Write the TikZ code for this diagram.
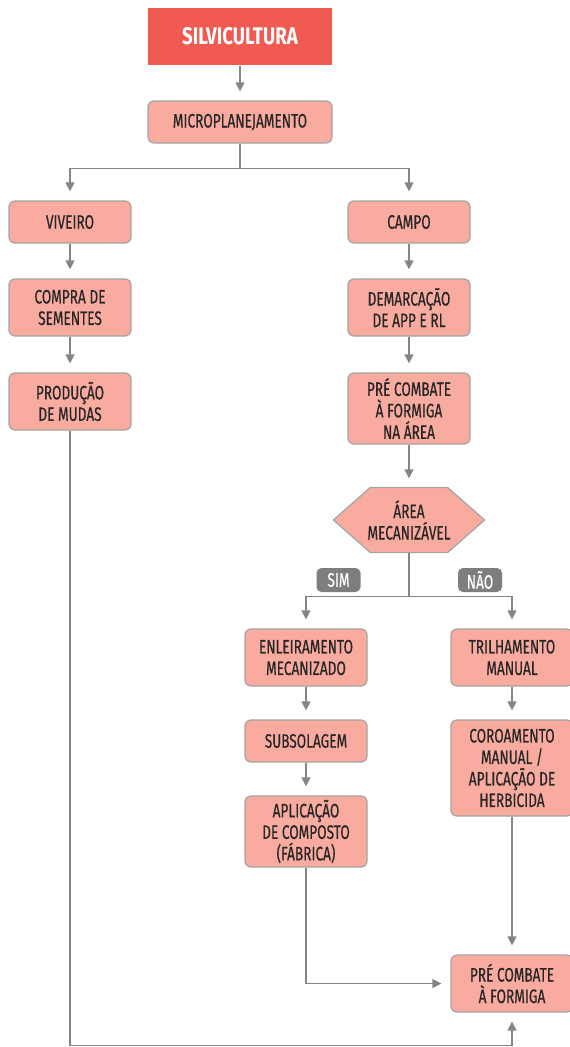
\documentclass[tikz,border=0pt]{standalone}
\usepackage{fontspec}
\setmainfont[FakeStretch=0.70,FakeBold=0.5]{Fira Sans}
\newfontfamily\headfont[FakeStretch=0.78]{Fira Sans}
\usetikzlibrary{arrows.meta}

\definecolor{topred}{HTML}{F15A50}
\definecolor{boxfill}{HTML}{F9ABA0}
\definecolor{boxline}{HTML}{A3A3A3}
\definecolor{linegray}{HTML}{858585}
\definecolor{tagfill}{HTML}{7E7E7E}

\begin{document}
\begin{tikzpicture}[x=1pt,y=-1pt,->,>={Triangle[length=9pt,width=9pt]},
  shorten >=9pt,line width=1.2pt,draw=linegray]
  \tikzstyle{every node}=[font=\fontsize{19.5}{21.5}\selectfont,text=black!85,align=center]
  \tikzstyle{box}=[draw=boxline,fill=boxfill,rounded corners=6pt,
    minimum width=122pt,minimum height=42pt,inner sep=2pt]
  \tikzstyle{head}=[fill=topred,draw=none,minimum width=184pt,minimum height=57pt,
    text=white,font=\fontsize{24}{26}\headfont\bfseries]
  \tikzstyle{tag}=[fill=tagfill,draw=none,rounded corners=5pt,text=white,
    minimum width=44pt,minimum height=24pt,inner sep=1pt]

  \useasboundingbox (0,0) rectangle (570,1047);

  % top
  \node[head] (silv)  at (240,36.5)  {SILVICULTURA};
  \node[box, minimum width=184pt] (micro) at (240,122) {MICROPLANEJAMENTO};

  % viveiro side
  \node[box] (viv)  at (70,222)   {VIVEIRO};
  \node[box, minimum height=57pt] (compra) at (70,307.5) {COMPRA DE\\SEMENTES};
  \node[box, minimum height=57pt] (prod)   at (70,401.5) {PRODUÇÃO\\DE MUDAS};

  % campo side
  \node[box] (campo) at (409,222)  {CAMPO};
  \node[box, minimum height=57pt] (demarc) at (409,307.5) {DEMARCAÇÃO\\DE APP E RL};
  \node[box, minimum height=71pt] (pre1)   at (409,408.5) {PRÉ COMBATE\\À FORMIGA\\NA ÁREA};
  \node[minimum width=150pt,minimum height=64pt,inner sep=0pt] (mec) at (409,520) {};
  \draw[-,fill=boxfill,draw=boxline,shorten >=0pt]
    (mec.west) -- ([xshift=37pt]mec.north west) -- ([xshift=-37pt]mec.north east)
    -- (mec.east) -- ([xshift=-37pt]mec.south east) -- ([xshift=37pt]mec.south west) -- cycle;
  \node at (mec) {ÁREA\\MECANIZÁVEL};
  \node[tag] (sim) at (338.5,580) {SIM};
  \node[tag] (nao) at (480,580)   {NÃO};

  % mecanizada
  \node[box, minimum height=57pt] (enlei) at (306,657.5) {ENLEIRAMENTO\\MECANIZADO};
  \node[box] (subsol) at (306,741) {SUBSOLAGEM};
  \node[box, minimum height=71pt] (compo) at (306,831.5) {APLICAÇÃO\\DE COMPOSTO\\(FÁBRICA)};

  % manual
  \node[box, minimum height=57pt] (trilha) at (512,657.5) {TRILHAMENTO\\MANUAL};
  \node[box, minimum height=96pt] (coroa)  at (512,768) {COROAMENTO\\MANUAL /\\APLICAÇÃO DE\\HERBICIDA};
  \node[box, minimum height=57pt] (pre2)   at (512,983.5) {PRÉ COMBATE\\À FORMIGA};

  % connectors
  \draw (silv) -- (micro);
  \draw (micro.south) -- ++(0,25) -| (viv);
  \draw (micro.south) -- ++(0,25) -| (campo);
  \draw (viv) -- (compra);
  \draw (compra) -- (prod);
  \draw (campo) -- (demarc);
  \draw (demarc) -- (pre1);
  \draw (pre1) -- (mec);
  \draw (mec.south) -- ++(0,44) -| (enlei);
  \draw (mec.south) -- ++(0,44) -| (trilha);
  \draw (enlei) -- (subsol);
  \draw (subsol) -- (compo);
  \draw (trilha) -- (coroa);
  \draw (coroa) -- (pre2);
  \draw (compo.south) |- (pre2.west);
  \draw (prod.south) -- ++(0,615) -| (pre2.south);
\end{tikzpicture}
\end{document}
